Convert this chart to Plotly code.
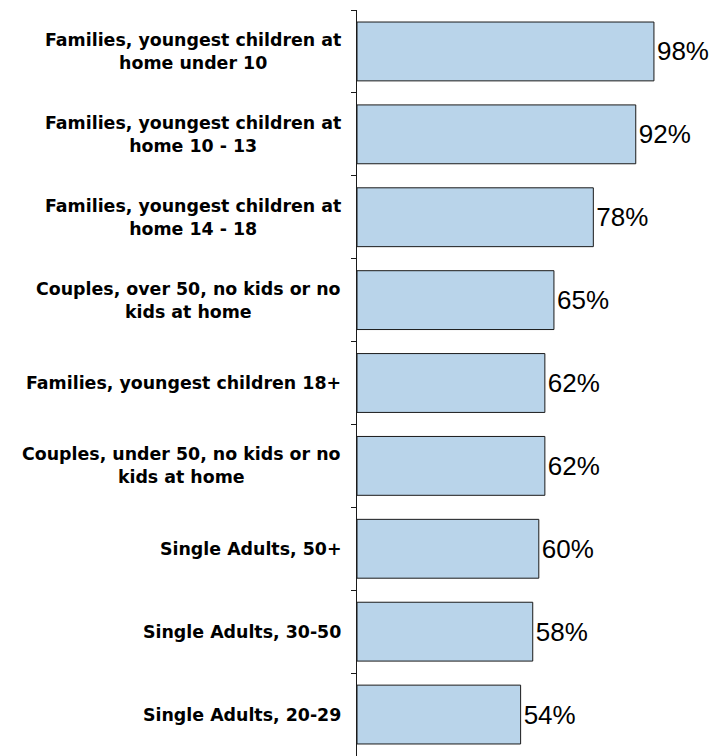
import plotly.graph_objects as go

categories = [
    "Families, youngest children at<br>home under 10",
    "Families, youngest children at<br>home 10 - 13",
    "Families, youngest children at<br>home 14 - 18",
    "Couples, over 50, no kids or no<br>kids at home",
    "Families, youngest children 18+",
    "Couples, under 50, no kids or no<br>kids at home",
    "Single Adults, 50+",
    "Single Adults, 30-50",
    "Single Adults, 20-29",
]
values = [98, 92, 78, 65, 62, 62, 60, 58, 54]
value_labels = [f"{v}%" for v in values]

fig = go.Figure(
    go.Bar(
        x=values,
        y=categories,
        orientation="h",
        marker=dict(color="#B9D4EA", line=dict(color="#1a1a1a", width=1)),
        text=value_labels,
        textposition="outside",
        textfont=dict(family="Liberation Sans, Arial", size=26, color="#000"),
        cliponaxis=False,
        constraintext="none",
        hoverinfo="skip",
    )
)

for cat in categories:
    fig.add_annotation(
        x=0, xref="paper", y=cat, yref="y",
        text=cat, showarrow=False,
        xanchor="right", yanchor="middle", align="center",
        xshift=-14,
        font=dict(family="DejaVu Sans", size=17.4, color="#000", weight="bold"),
    )

fig.update_layout(
    width=719, height=748,
    margin=dict(l=349, r=67, t=2, b=0),
    paper_bgcolor="white", plot_bgcolor="white",
    bargap=0.29,
    showlegend=False,
    xaxis=dict(range=[0, 100], visible=False, fixedrange=True),
    yaxis=dict(
        autorange="reversed",
        showline=True, linecolor="#1a1a1a", linewidth=1,
        ticks="outside", ticklen=5, tickcolor="#1a1a1a", tickwidth=1,
        tickson="boundaries",
        showticklabels=False, showgrid=False, zeroline=False,
    ),
)

fig.write_html("out.html")
